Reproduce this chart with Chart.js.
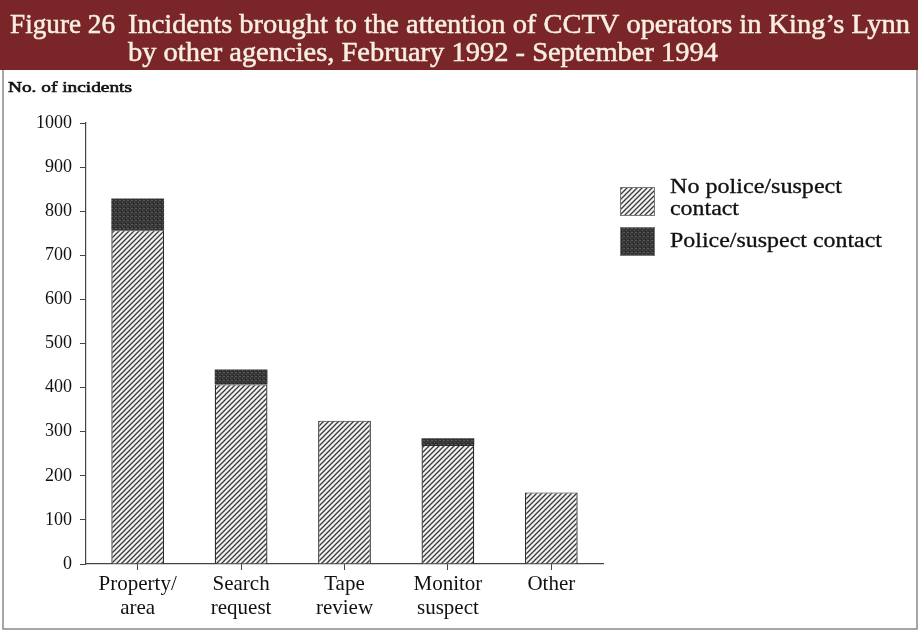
<!DOCTYPE html>
<html>
<head>
<meta charset="utf-8">
<script src="https://cdn.jsdelivr.net/npm/chart.js@4.4.1/dist/chart.umd.min.js"></script>
<style>
  html, body { margin: 0; padding: 0; background: #ffffff; }
  #wrap { width: 923px; height: 633px; position: relative; }
</style>
</head>
<body>
<div id="wrap"><canvas id="c" width="923" height="633"></canvas></div>
<script>
// ---- Data ----
const categories = [["Property/", "area"], ["Search", "request"], ["Tape", "review"], ["Monitor", "suspect"], ["Other"]];
const noContact = [757, 407, 325, 270, 162];
const policeContact = [72, 34, 0, 15, 0];
const seriesNames = ["No police/suspect contact", "Police/suspect contact"];
const legendLines = [["No police/suspect", "contact"], ["Police/suspect contact"]];
const yTicks = [0, 100, 200, 300, 400, 500, 600, 700, 800, 900, 1000];
const titleLead = "Figure 26";
const titleLines = ["Incidents brought to the attention of CCTV operators in King\u2019s Lynn", "by other agencies, February 1992 - September 1994"];
const yTitle = "No. of incidents";

// ---- Patterns ----
function hatchPattern() {
  const t = document.createElement('canvas');
  t.width = 5; t.height = 5;
  const g = t.getContext('2d');
  g.fillStyle = '#f2f2f2'; g.fillRect(0, 0, 5, 5);
  g.strokeStyle = '#3a3a3a'; g.lineWidth = 1.3;
  g.beginPath();
  g.moveTo(-1, 6); g.lineTo(6, -1);
  g.moveTo(-1, 1); g.lineTo(1, -1);
  g.moveTo(4, 6); g.lineTo(6, 4);
  g.stroke();
  return g.createPattern(t, 'repeat');
}
function darkPattern() {
  const t = document.createElement('canvas');
  t.width = 4; t.height = 4;
  const g = t.getContext('2d');
  g.fillStyle = '#353535'; g.fillRect(0, 0, 4, 4);
  g.fillStyle = '#5a5a5a';
  g.fillRect(0, 0, 1, 1); g.fillRect(2, 2, 1, 1); g.fillRect(3, 0, 1, 1);
  g.fillStyle = '#222';
  g.fillRect(1, 3, 1, 1);
  return g.createPattern(t, 'repeat');
}
const hatch = hatchPattern();
const dark = darkPattern();

function fitText(ctx, text, x, y, targetW, strokeW) {
  const w = ctx.measureText(text).width;
  ctx.save();
  ctx.translate(x, y);
  ctx.scale(targetW / w, 1);
  ctx.fillText(text, 0, 0);
  if (strokeW) { ctx.lineWidth = strokeW; ctx.strokeStyle = ctx.fillStyle; ctx.strokeText(text, 0, 0); }
  ctx.restore();
}

// ---- Decorations plugin (title band, frame, y title, legend) ----
const decor = {
  id: 'decor',
  beforeDraw(chart) {
    const ctx = chart.ctx;
    ctx.save();
    ctx.fillStyle = '#ffffff';
    ctx.fillRect(0, 0, chart.width, chart.height);
    // title band
    ctx.fillStyle = '#7a2628';
    ctx.fillRect(0, 0, 918, 70);
    ctx.fillStyle = '#f7efe3';
    ctx.font = '27px "Liberation Serif"';
    ctx.textBaseline = 'alphabetic';
    fitText(ctx, titleLead, 10, 33, 105, 0.5);
    fitText(ctx, titleLines[0], 128, 33, 782, 0.5);
    fitText(ctx, titleLines[1], 128, 61, 590, 0.5);
    // frame
    ctx.strokeStyle = '#8a8a8a';
    ctx.lineWidth = 1.5;
    ctx.beginPath();
    ctx.moveTo(3, 70); ctx.lineTo(3, 629); ctx.lineTo(917, 629); ctx.lineTo(917, 70);
    ctx.stroke();
    // y title
    ctx.fillStyle = '#111';
    ctx.font = '15px "Liberation Serif"';
    fitText(ctx, yTitle, 8, 92, 124, 0.6);
    ctx.restore();
  },
  afterDraw(chart) {
    const ctx = chart.ctx;
    ctx.save();
    const boxes = [{y: 187, h: 29}, {y: 227, h: 29}];
    chart.data.datasets.forEach((ds, i) => {
      const b = boxes[i];
      ctx.fillStyle = ds.backgroundColor;
      ctx.fillRect(620, b.y, 35, b.h);
      ctx.strokeStyle = '#777';
      ctx.lineWidth = 1;
      ctx.strokeRect(620.5, b.y + 0.5, 34, b.h - 1);
    });
    ctx.fillStyle = '#111';
    ctx.font = '20px "Liberation Serif"';
    ctx.textBaseline = 'alphabetic';
    fitText(ctx, legendLines[0][0], 670, 193, 172, 0.3);
    fitText(ctx, legendLines[0][1], 670, 215, 69, 0.3);
    fitText(ctx, legendLines[1][0], 670, 247, 212, 0.3);
    ctx.restore();
  }
};

new Chart(document.getElementById('c'), {
  type: 'bar',
  data: {
    labels: categories,
    datasets: [
      { label: seriesNames[0], data: noContact, backgroundColor: hatch, borderColor: '#2a2a2a', borderWidth: {top: 1, left: 1.3, right: 1.3, bottom: 0}, borderSkipped: 'bottom' },
      { label: seriesNames[1], data: policeContact, backgroundColor: dark, borderColor: '#2a2a2a', borderWidth: 0 }
    ]
  },
  plugins: [decor],
  options: {
    responsive: false,
    animation: false,
    devicePixelRatio: 1,
    layout: { padding: { left: 0, right: 320, top: 123, bottom: 0 } },
    datasets: { bar: { categoryPercentage: 1, barPercentage: 0.51 } },
    plugins: { legend: { display: false }, title: { display: false }, tooltip: { enabled: false } },
    scales: {
      x: {
        stacked: true,
        offset: true,
        grid: { display: true, offset: false, drawOnChartArea: false, drawTicks: true, tickLength: 6, color: '#444', lineWidth: 1 },
        border: { display: true, color: '#444', width: 1.2 },
        ticks: { color: '#111', font: { family: 'Liberation Serif', size: 21, lineHeight: 1.15 }, padding: 2, maxRotation: 0, autoSkip: false },
        afterFit(s) { s.height = 69; }
      },
      y: {
        stacked: true,
        min: 0, max: 1000,
        afterBuildTicks(s) { s.ticks = yTicks.map(v => ({ value: v })); },
        grid: { display: true, drawOnChartArea: false, drawTicks: true, tickLength: 6, color: '#444', lineWidth: 1 },
        border: { display: true, color: '#444', width: 1.2 },
        ticks: { color: '#111', font: { family: 'Liberation Serif', size: 18 }, padding: 8, callback: (v) => String(v) },
        afterFit(s) { s.width = 86; }
      }
    }
  }
});
</script>
</body>
</html>
